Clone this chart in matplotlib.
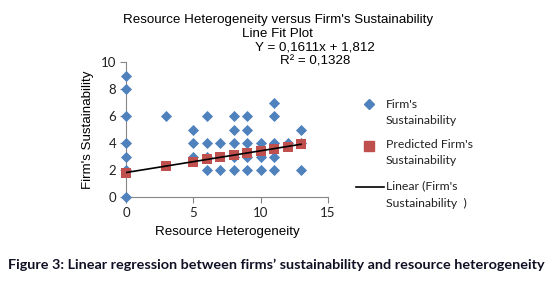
import matplotlib
matplotlib.use("Agg")
import matplotlib.pyplot as plt
from matplotlib.lines import Line2D

# observed data (resource heterogeneity, firm's sustainability)
obs_x = [0, 0, 0, 0, 0, 0, 0,
         3,
         5, 5, 5,
         6, 6, 6, 6,
         7, 7,
         8, 8, 8, 8, 8,
         9, 9, 9, 9, 9,
         10, 10, 10,
         11, 11, 11, 11, 11,
         12,
         13, 13, 13]
obs_y = [0, 2, 3, 4, 6, 8, 9,
         6,
         3, 4, 5,
         2, 3, 4, 6,
         2, 4,
         2, 3, 4, 5, 6,
         2, 3, 4, 5, 6,
         2, 3, 4,
         2, 3, 4, 6, 7,
         4,
         2, 4, 5]

# predicted values
pred_x = [0, 3, 5, 6, 7, 8, 9, 10, 11, 12, 13]
pred_y = [1.81, 2.30, 2.62, 2.78, 2.94, 3.10, 3.26, 3.42, 3.58, 3.74, 3.91]

# trendline coefficients as printed on the chart
slope = 0.1611
intercept = 1.812
trend_x = [0, 13]

blue = "#4F81BD"
red = "#C0504D"
axis_grey = "#868686"

fig = plt.figure(figsize=(5.58, 2.82), dpi=100)
ax = fig.add_axes([126 / 558, 1 - 197 / 282, 202 / 558, 135 / 282])

ax.scatter(obs_x, obs_y, marker="D", s=32, color=blue, zorder=3, clip_on=False, linewidths=0)
ax.scatter(pred_x, pred_y, marker="s", s=56, color=red, zorder=4, clip_on=False, linewidths=0)
ax.plot(trend_x, [intercept + slope * x for x in trend_x], color="black", lw=1.2, zorder=5)

ax.set_xlim(0, 15)
ax.set_ylim(0, 10)
ax.set_xticks([0, 5, 10, 15])
ax.set_yticks([0, 2, 4, 6, 8, 10])
for s in ["top", "right"]:
    ax.spines[s].set_visible(False)
for s in ["left", "bottom"]:
    ax.spines[s].set_color(axis_grey)
    ax.spines[s].set_linewidth(0.8)
ax.tick_params(direction="out", length=4, width=0.8, color=axis_grey,
               labelsize=9.5, labelcolor="#222222", pad=3)
for lab in ax.get_xticklabels() + ax.get_yticklabels():
    lab.set_family("Lato")

ax.set_xlabel("Resource Heterogeneity", family="Liberation Sans", fontsize=9.6, labelpad=5)
ax.set_ylabel("Firm's Sustainability", family="Liberation Sans", fontsize=9.6, labelpad=5)

fig.text(278 / 558, 1 - 20 / 282, "Resource Heterogeneity versus Firm's Sustainability",
         ha="center", va="center", family="Liberation Sans", fontsize=9.6)
fig.text(277 / 558, 1 - 34 / 282, "Line Fit Plot",
         ha="center", va="center", family="Liberation Sans", fontsize=9.6)
fig.text(315 / 558, 1 - 48 / 282, "Y = 0,1611x + 1,812",
         ha="center", va="center", family="Liberation Sans", fontsize=9.6)
fig.text(315 / 558, 1 - 61 / 282, "R\u00b2 = 0,1328",
         ha="center", va="center", family="Liberation Sans", fontsize=9.6)

# legend drawn by hand so each marker sits on the first line of its label
leg_font = dict(family="Lato", fontsize=8.8, color="#222222", va="center", ha="left")
tx = 386 / 558
fig.add_artist(Line2D([369 / 558], [1 - 104 / 282], marker="D", markersize=5.5,
                      color=blue, lw=0, transform=fig.transFigure))
fig.text(tx, 1 - 104 / 282, "Firm's", **leg_font)
fig.text(tx, 1 - 121 / 282, "Sustainability", **leg_font)
fig.add_artist(Line2D([369 / 558], [1 - 146 / 282], marker="s", markersize=7.5,
                      color=red, lw=0, transform=fig.transFigure))
fig.text(tx, 1 - 145 / 282, "Predicted Firm's", **leg_font)
fig.text(tx, 1 - 161 / 282, "Sustainability", **leg_font)
fig.add_artist(Line2D([356 / 558, 384 / 558], [1 - 187 / 282, 1 - 187 / 282],
                      color="black", lw=1.2, transform=fig.transFigure))
fig.text(tx, 1 - 186 / 282, "Linear (Firm's", **leg_font)
fig.text(tx, 1 - 203 / 282, "Sustainability  )", **leg_font)

fig.text(276 / 558, 1 - 265 / 282,
         "Figure 3: Linear regression between firms\u2019 sustainability and resource heterogeneity",
         ha="center", va="center", family="Lato", fontweight="bold", fontsize=10.4,
         color="#111126")

fig.savefig("out.png", dpi=100)
